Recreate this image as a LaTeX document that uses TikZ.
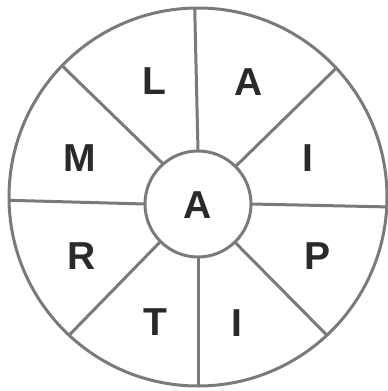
\documentclass[tikz,border=0pt]{standalone}
\usepackage{fontspec}
\setmainfont{Liberation Sans}
\definecolor{ln}{HTML}{7A7A7A}
\definecolor{tx}{HTML}{2A2A2A}
\begin{document}
\begin{tikzpicture}[x=1pt,y=-1pt,
  ring/.style={circle,draw=ln,line width=3pt,inner sep=0pt,outer sep=0pt},
  spoke/.style={draw=ln,line width=3pt},
  letter/.style={text=tx,font=\fontsize{39}{39}\selectfont\bfseries,inner sep=0pt}]
\useasboundingbox (0,0) rectangle (388,391);
\node[ring,minimum size=378pt] (outer) at (198,197) {};
\node[ring,minimum size=106pt] (inner) at (198,204) {};
\draw[spoke] (outer.91) -- (inner.90);
\draw[spoke] (outer.270) -- (inner.270);
\draw[spoke] (outer.181.8) -- (inner.180);
\draw[spoke] (outer.357.6) -- (inner.0);
\draw[spoke] (outer.136) -- (inner.131);
\draw[spoke] (outer.43.7) -- (inner.45.7);
\draw[spoke] (outer.227) -- (inner.225.7);
\draw[spoke] (outer.313.7) -- (inner.314);
\node[letter] (c) at (198,205) {A};
\node[letter] (l1) at (154,81) {L};
\node[letter] (l2) at (249,82) {A};
\node[letter] (l3) at (80,158) {M};
\node[letter] (l4) at (308,158) {I};
\node[letter] (l5) at (82,256) {R};
\node[letter] (l6) at (318,256) {P};
\node[letter] (l7) at (155,322) {T};
\node[letter] (l8) at (237,323) {I};
\end{tikzpicture}
\end{document}
